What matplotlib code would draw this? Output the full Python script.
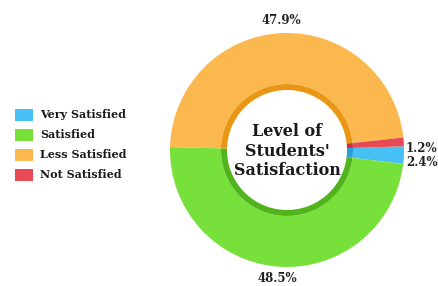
import matplotlib
matplotlib.use("Agg")
import matplotlib.pyplot as plt
import numpy as np
from matplotlib.patches import Rectangle

categories = ["Very Satisfied", "Satisfied", "Less Satisfied", "Not Satisfied"]
values = [2.4, 48.5, 47.9, 1.2]
labels = ["2.4%", "48.5%", "47.9%", "1.2%"]
colors = ["#47C0F4", "#78E03B", "#FBB84F", "#E84A55"]
dark_colors = ["#2A9FD8", "#52B41C", "#E99614", "#C83040"]
center_title = "Level of\nStudents'\nSatisfaction"

W, H = 438, 286
fig = plt.figure(figsize=(W / 100, H / 100), dpi=100)
ax = fig.add_axes([0, 0, 1, 1])

cx, cy = 287, 136
R = 117
r_mid = 66
r_in = 60
start = 1.8

ax.pie(values, colors=colors, startangle=start, counterclock=False,
       radius=R, center=(cx, cy), frame=True,
       wedgeprops=dict(width=R - r_mid, linewidth=0))
ax.pie(values, colors=dark_colors, startangle=start, counterclock=False,
       radius=r_mid, center=(cx, cy), frame=True,
       wedgeprops=dict(width=r_mid - r_in, linewidth=0))
ax.set_xlim(0, W)
ax.set_ylim(0, H)
ax.set_aspect("equal")
ax.axis("off")

font = "DejaVu Serif"
ax.text(cx, cy - 1, center_title, ha="center", va="center", fontsize=11.5,
        fontweight="bold", family=font, color="#1a1a1a", linespacing=1.2)

# percentage labels
total = sum(values)
angles = []
a = start
for v in values:
    span = 360 * v / total
    angles.append(a - span / 2)
    a -= span

for i, (lab, ang) in enumerate(zip(labels, angles)):
    t = np.deg2rad(ang)
    if values[i] > 10:
        off = 13 if np.sin(t) > 0 else 12
        x = cx + (R + off) * np.cos(t)
        y = cy + (R + off) * np.sin(t)
        ax.text(x, y, lab, ha="center", va="center", fontsize=8.5,
                family=font, color="#222222", fontweight="bold")
    else:
        x = cx + R + 2
        y = cy + R * np.sin(t)
        y = y + (-7 if ang < 0 else 1)
        ax.text(x, y, lab, ha="left", va="center", fontsize=8.5,
                family=font, color="#222222", fontweight="bold")

# legend
for i, (cat, col) in enumerate(zip(categories, colors)):
    yy = H - (115 + i * 20)
    ax.add_patch(Rectangle((15, yy - 6), 18, 12, facecolor=col, edgecolor="none"))
    ax.text(40, yy, cat, ha="left", va="center", fontsize=8, family=font,
            fontweight="bold", color="#1a1a1a")

fig.savefig("out.png", dpi=100)
